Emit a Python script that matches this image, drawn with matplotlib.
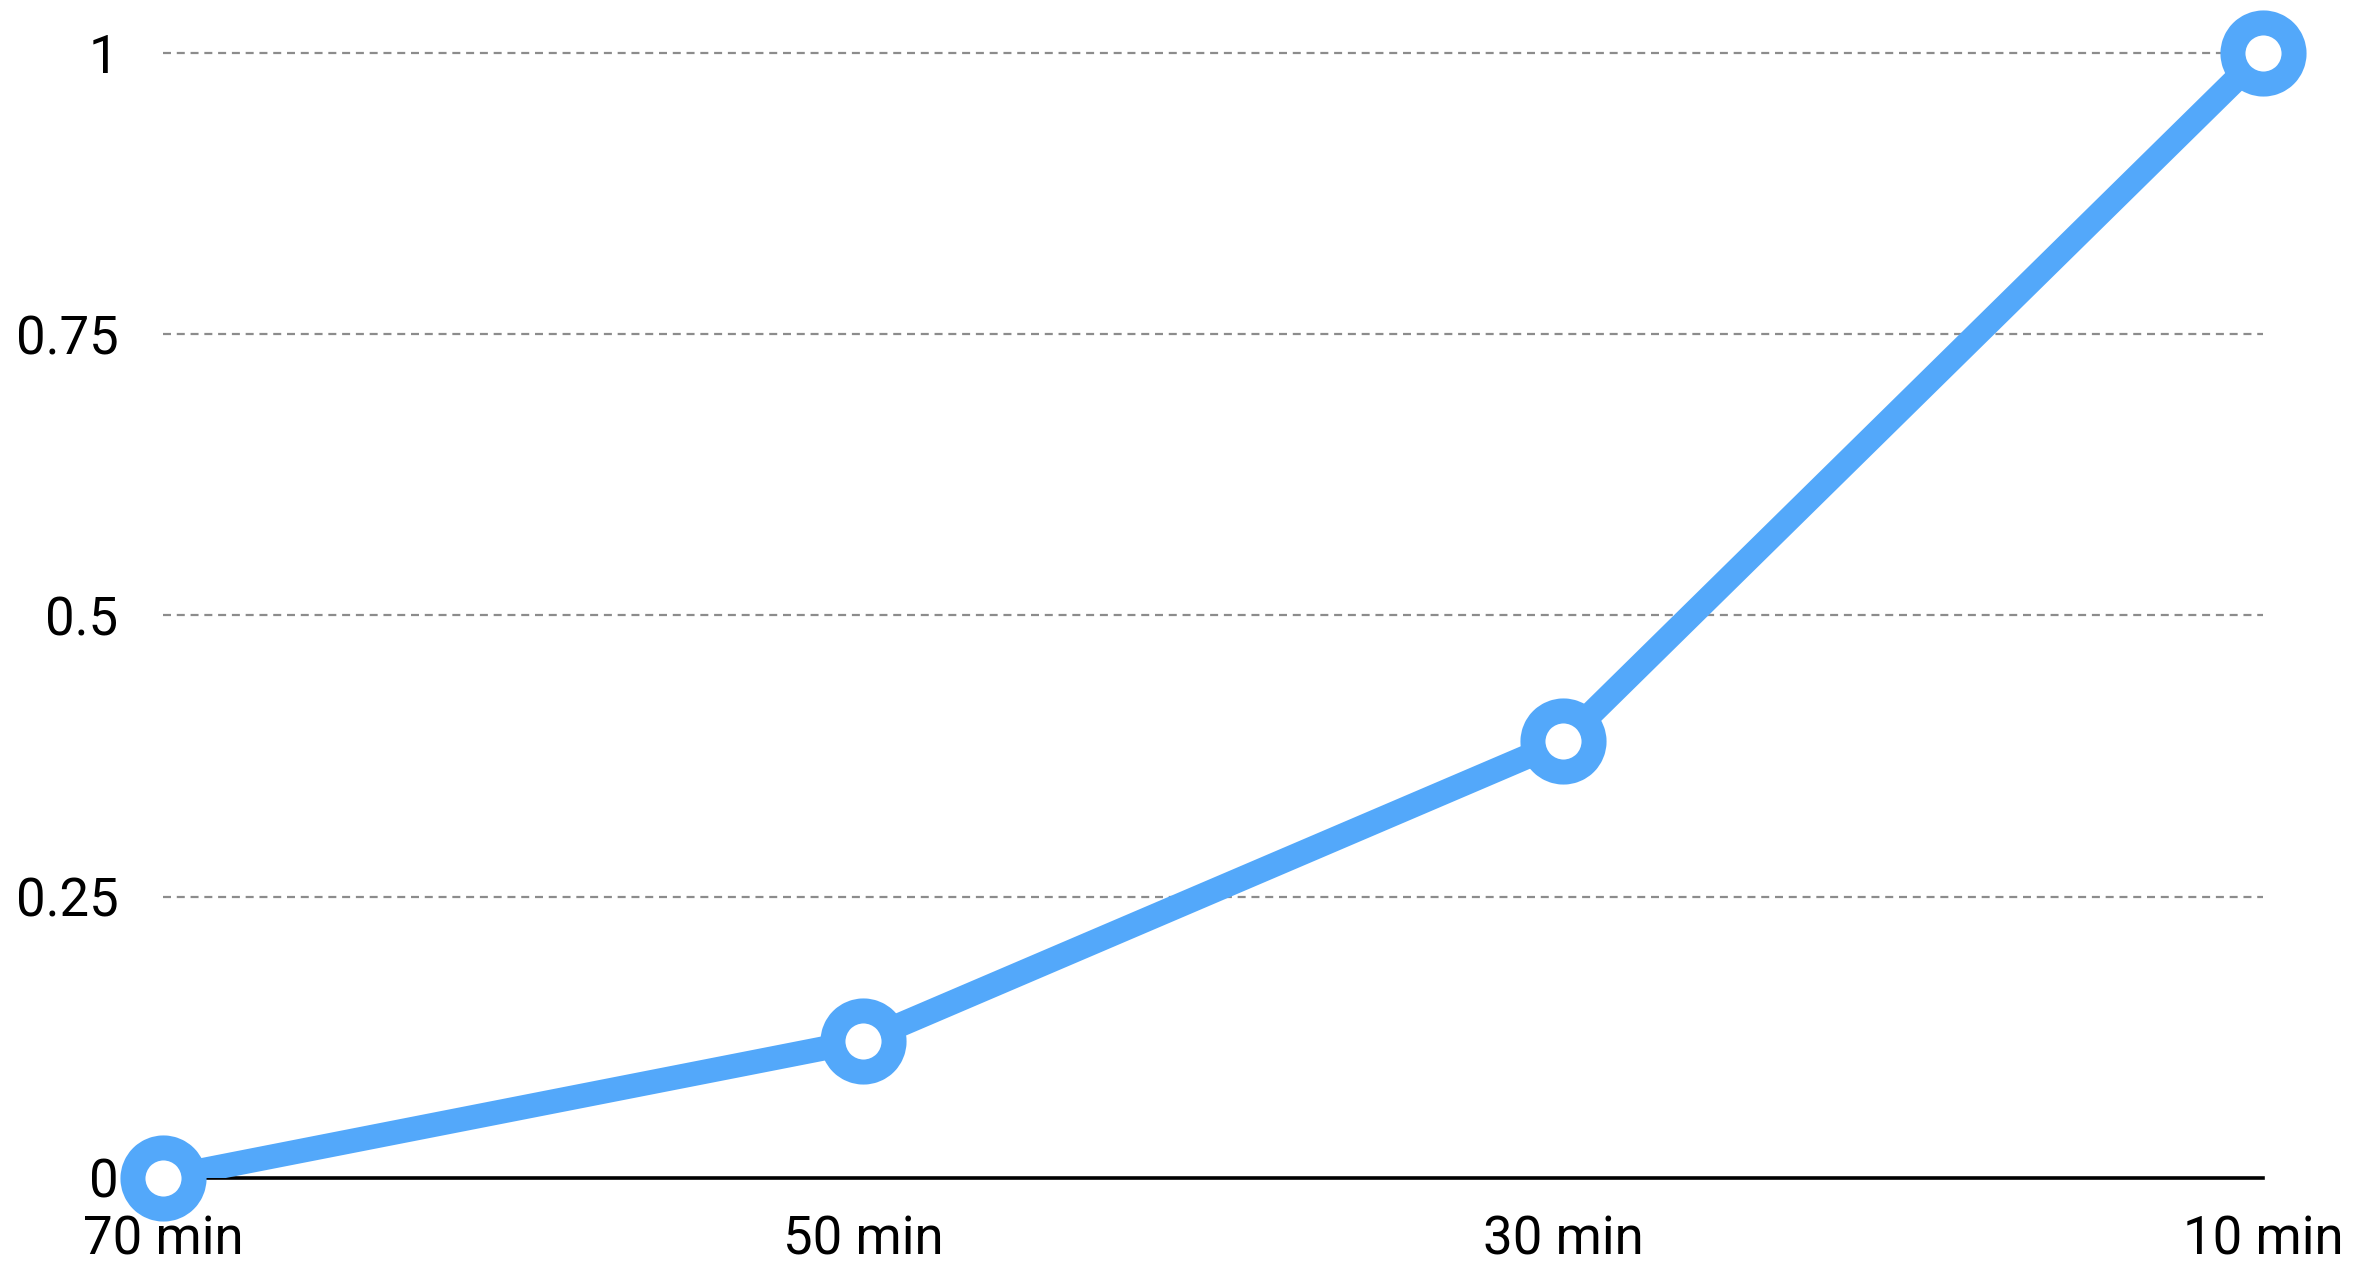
import numpy as np
from matplotlib import pyplot as plt

categories = ["70 min", "50 min", "30 min", "10 min"]
values = [0.0, 0.122, 0.388, 1.0]
yticks = [0, 0.25, 0.5, 0.75, 1]
ytick_labels = ["0", "0.25", "0.5", "0.75", "1"]

blue = "#53a8fa"
plt.rcParams['font.family'] = ['Roboto', 'DejaVu Sans']

fig = plt.figure(figsize=(23.72, 12.62), dpi=100)
ax = fig.add_axes([0.0687, 0.0666, 0.8853, 0.8914])

x = np.arange(len(categories))
ax.plot(x, values, color=blue, lw=17.5, solid_capstyle='butt', zorder=3)
ax.plot(x, values, ls='none', marker='o', ms=44, mew=18,
        mfc='white', mec=blue, zorder=4, clip_on=False)

ax.set_xlim(x[0], x[-1])
ax.set_ylim(0, 1)
ax.set_xticks(x)
ax.set_xticklabels(categories)
ax.set_yticks(yticks)
ax.set_yticklabels(ytick_labels)

for v in yticks[1:]:
    ax.axhline(v, color='#8c8c8c', lw=1.6, ls=(0, (3.6, 2.6)), zorder=1, clip_on=False)
ax.axhline(0, color='black', lw=2.6, zorder=2, clip_on=False)

for s in ax.spines.values():
    s.set_visible(False)
ax.tick_params(length=0, labelsize=38, colors='black')
ax.tick_params(axis='y', pad=32)
ax.tick_params(axis='x', pad=26)

plt.savefig("out.png", dpi=100)
